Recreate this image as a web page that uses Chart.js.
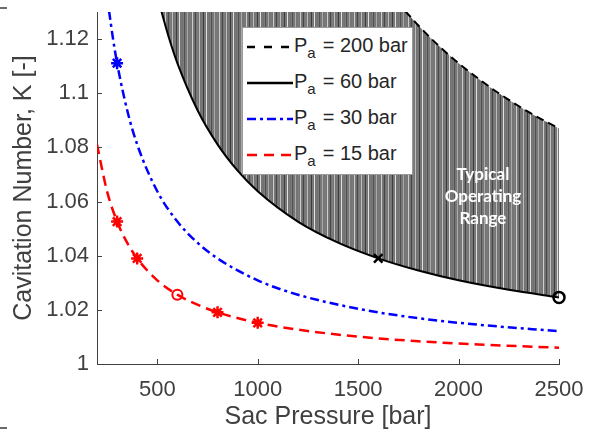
<!DOCTYPE html>
<html>
<head>
<meta charset="utf-8">
<title>Cavitation Number vs Sac Pressure</title>
<script src="https://cdn.jsdelivr.net/npm/chart.js@4.4.1/dist/chart.umd.min.js"></script>
<style>
    html, body { margin: 0; padding: 0; background: #fff; }
    #wrap { position: relative; width: 591px; height: 437px; overflow: hidden; font-family: "Liberation Sans", Arial, sans-serif; }
    #chart { position: absolute; left: 0; top: 0; }
    #legend { position: absolute; left: 242px; top: 27px; width: 171px; height: 148px; border: 1px solid #9a9a9a; background: #fff; box-sizing: border-box; }
    .row { position: absolute; left: 2px; height: 28px; width: 168px; }
    .row svg { position: absolute; left: 0; top: 9px; }
    .row .lbl { position: absolute; left: 49px; top: 0; font-size: 20px; color: #262626; white-space: nowrap; line-height: 24px; }
    .row .lbl sub { font-size: 15px; position: relative; top: 6px; vertical-align: baseline; margin-right: 7px; }
    #region { position: absolute; left: 423px; top: 163px; width: 120px; text-align: center; color: #fff; font-family: Lato, "Open Sans", sans-serif; font-weight: bold; font-size: 17px; line-height: 22px; }
    .mark { position: absolute; height: 2px; background: #6a6a6a; }
</style>
</head>
<body>
<div id="wrap">
    <canvas id="chart" width="591" height="437"></canvas>
    <div class="mark" style="left:0;top:7px;width:7px"></div>
    <div class="mark" style="left:0;top:427px;width:7px"></div>
    <div id="legend">
        <div class="row" style="top:5px">
            <svg width="48" height="10"><line x1="2" y1="5" x2="48" y2="5" stroke="#000" stroke-width="2.5" stroke-dasharray="8,9"/></svg>
            <span class="lbl">P<sub>a</sub>= 200 bar</span>
        </div>
        <div class="row" style="top:41px">
            <svg width="48" height="10"><line x1="2" y1="5" x2="48" y2="5" stroke="#000" stroke-width="2.5"/></svg>
            <span class="lbl">P<sub>a</sub>= 60 bar</span>
        </div>
        <div class="row" style="top:77px">
            <svg width="48" height="10"><line x1="2" y1="5" x2="48" y2="5" stroke="#0000ff" stroke-width="2.5" stroke-dasharray="9,4,3,4"/></svg>
            <span class="lbl">P<sub>a</sub>= 30 bar</span>
        </div>
        <div class="row" style="top:113px">
            <svg width="48" height="10"><line x1="2" y1="5" x2="48" y2="5" stroke="#ff0000" stroke-width="2.5" stroke-dasharray="10,7"/></svg>
            <span class="lbl">P<sub>a</sub>= 15 bar</span>
        </div>
    </div>
    <div id="region">Typical<br>Operating<br>Range</div>
</div>
<script>
// Sac pressure [bar] and cavitation number K for each ambient pressure
const sacPressure200 = [1735, 1800, 1900, 2000, 2100, 2200, 2350, 2500];
const kPa200 = [1.1303, 1.1250, 1.1176, 1.1111, 1.1053, 1.1000, 1.0930, 1.0870];

const sacPressure60 = [520, 560, 600, 700, 800, 900, 1000, 1200, 1400, 1600, 1800, 2000, 2250, 2500];
const kPa60 = [1.1304, 1.1200, 1.1111, 1.0938, 1.0811, 1.0714, 1.0638, 1.0526, 1.0448, 1.0390, 1.0345, 1.0309, 1.0274, 1.0246];

const sacPressure30 = [260, 280, 300, 350, 400, 500, 600, 700, 800, 1000, 1200, 1500, 1800, 2100, 2500];
const kPa30 = [1.1304, 1.1200, 1.1111, 1.0938, 1.0811, 1.0638, 1.0526, 1.0448, 1.0390, 1.0309, 1.0256, 1.0204, 1.0169, 1.0145, 1.0121];

const sacPressure15 = [200, 250, 300, 350, 400, 500, 600, 700, 800, 1000, 1200, 1500, 1800, 2100, 2500];
const kPa15 = [1.0811, 1.0638, 1.0526, 1.0448, 1.0390, 1.0309, 1.0256, 1.0219, 1.0191, 1.0152, 1.0127, 1.0101, 1.0084, 1.0072, 1.0060];

// Measured operating points
const starP15 = [300, 400, 800, 1000];
const starK15 = [1.0526, 1.0390, 1.0191, 1.0152];
const ringP15 = [600];
const ringK15 = [1.0256];
const starP30 = [300];
const starK30 = [1.1111];
const crossP60 = [1600];
const crossK60 = [1.0390];
const ringP60 = [2500];
const ringK60 = [1.0246];

const xTicks = [500, 1000, 1500, 2000, 2500];
const xTickLabels = ['500', '1000', '1500', '2000', '2500'];
const yTicks = [1, 1.02, 1.04, 1.06, 1.08, 1.1, 1.12];
const yTickLabels = ['1', '1.02', '1.04', '1.06', '1.08', '1.1', '1.12'];

function pts(xs, ys) {
    return xs.map((x, i) => ({ x: x, y: ys[i] }));
}

// vertical stripe fill for the operating range
function stripePattern(ctx) {
    const shades = [118, 122, 116, 205, 120, 112, 70, 118, 124, 118, 190, 114, 120, 116, 60, 122, 118, 225, 116, 120, 112, 124, 80, 118, 120, 170, 116];
    const c = document.createElement('canvas');
    c.width = shades.length;
    c.height = 4;
    const g = c.getContext('2d');
    shades.forEach((s, i) => {
        g.fillStyle = 'rgb(' + s + ',' + s + ',' + s + ')';
        g.fillRect(i, 0, 1, 4);
    });
    return ctx.createPattern(c, 'repeat');
}

// MATLAB-like ticks pointing into the plot area
const innerTicks = {
    id: 'innerTicks',
    afterDatasetsDraw(chart) {
        const { ctx, chartArea, scales } = chart;
        ctx.save();
        ctx.strokeStyle = '#404040';
        ctx.lineWidth = 1;
        ctx.beginPath();
        xTicks.forEach(v => {
            const x = Math.round(scales.x.getPixelForValue(v)) + 0.5;
            ctx.moveTo(x, chartArea.bottom);
            ctx.lineTo(x, chartArea.bottom - 5);
        });
        yTicks.forEach(v => {
            const y = Math.round(scales.y.getPixelForValue(v)) + 0.5;
            ctx.moveTo(chartArea.left, y);
            ctx.lineTo(chartArea.left + 5, y);
        });
        ctx.stroke();
        ctx.restore();
    }
};

const canvas = document.getElementById('chart');
const ctx = canvas.getContext('2d');
const tickFont = { family: '"Liberation Sans", Arial, sans-serif', size: 22 };
const titleFont = { family: '"Liberation Sans", Arial, sans-serif', size: 25 };

new Chart(ctx, {
    type: 'scatter',
    data: {
        datasets: [
            {
                label: 'Pa = 200 bar',
                data: pts(sacPressure200, kPa200),
                order: 2,
                showLine: true,
                borderColor: '#000',
                borderWidth: 2,
                borderDash: [8, 5],
                backgroundColor: '#fff',
                fill: 'end',
                pointRadius: 0,
                cubicInterpolationMode: 'monotone'
            },
            {
                label: 'Pa = 60 bar',
                data: pts(sacPressure60, kPa60),
                order: 3,
                showLine: true,
                borderColor: '#000',
                borderWidth: 2,
                backgroundColor: stripePattern(ctx),
                fill: 'end',
                pointRadius: 0,
                cubicInterpolationMode: 'monotone'
            },
            {
                label: 'Pa = 30 bar',
                data: pts(sacPressure30, kPa30),
                order: 1,
                showLine: true,
                borderColor: '#0000ff',
                borderWidth: 2.5,
                borderDash: [9, 4, 3, 4],
                pointRadius: 0,
                cubicInterpolationMode: 'monotone'
            },
            {
                label: 'Pa = 15 bar',
                data: pts(sacPressure15, kPa15),
                order: 1,
                showLine: true,
                borderColor: '#ff0000',
                borderWidth: 2.5,
                borderDash: [10, 6],
                pointRadius: 0,
                cubicInterpolationMode: 'monotone'
            },
            {
                data: pts(starP15, starK15),
                order: 0,
                pointStyle: 'star',
                pointRadius: 6,
                borderWidth: 2.5,
                borderColor: '#ff0000',
                backgroundColor: '#ff0000'
            },
            {
                data: pts(ringP15, ringK15),
                order: 0,
                pointStyle: 'circle',
                pointRadius: 5,
                borderWidth: 2,
                borderColor: '#ff0000',
                backgroundColor: 'rgba(0,0,0,0)'
            },
            {
                data: pts(starP30, starK30),
                order: 0,
                pointStyle: 'star',
                pointRadius: 6,
                borderWidth: 2.5,
                borderColor: '#0000ff',
                backgroundColor: '#0000ff'
            },
            {
                data: pts(crossP60, crossK60),
                order: 0,
                pointStyle: 'crossRot',
                pointRadius: 6,
                borderWidth: 2.5,
                borderColor: '#000'
            },
            {
                data: pts(ringP60, ringK60),
                order: 0,
                pointStyle: 'circle',
                pointRadius: 5.5,
                borderWidth: 2.5,
                borderColor: '#000',
                backgroundColor: 'rgba(0,0,0,0)',
                clip: false
            }
        ]
    },
    options: {
        responsive: false,
        animation: false,
        events: [],
        layout: { padding: { left: 0, right: 32, top: 12, bottom: 0 } },
        plugins: {
            legend: { display: false },
            tooltip: { enabled: false }
        },
        scales: {
            x: {
                type: 'linear',
                min: 200,
                max: 2500,
                grid: { display: false, drawTicks: false },
                border: { display: true, color: '#404040', width: 1 },
                afterBuildTicks: s => { s.ticks = xTicks.map(v => ({ value: v })); },
                afterFit: s => { s.height = 73; s.paddingLeft = 0; s.paddingRight = 0; },
                ticks: {
                    padding: 13,
                    color: '#404040',
                    font: tickFont,
                    maxRotation: 0,
                    callback: (v) => xTickLabels[xTicks.indexOf(v)]
                },
                title: {
                    display: true,
                    text: 'Sac Pressure [bar]',
                    color: '#404040',
                    font: titleFont,
                    padding: { top: 0, bottom: 5 }
                }
            },
            y: {
                type: 'linear',
                min: 1,
                max: 1.13,
                grid: { display: false, drawTicks: false },
                border: { display: true, color: '#404040', width: 1 },
                afterBuildTicks: s => { s.ticks = yTicks.map(v => ({ value: v })); },
                afterFit: s => { s.width = 97; s.paddingTop = 0; s.paddingBottom = 0; },
                ticks: {
                    padding: 8,
                    color: '#404040',
                    font: tickFont,
                    callback: (v) => yTickLabels[yTicks.indexOf(v)]
                },
                title: {
                    display: true,
                    text: 'Cavitation Number, K [-]',
                    color: '#404040',
                    font: titleFont,
                    padding: { top: 9, bottom: 0 }
                }
            }
        }
    },
    plugins: [innerTicks]
});
</script>
</body>
</html>
